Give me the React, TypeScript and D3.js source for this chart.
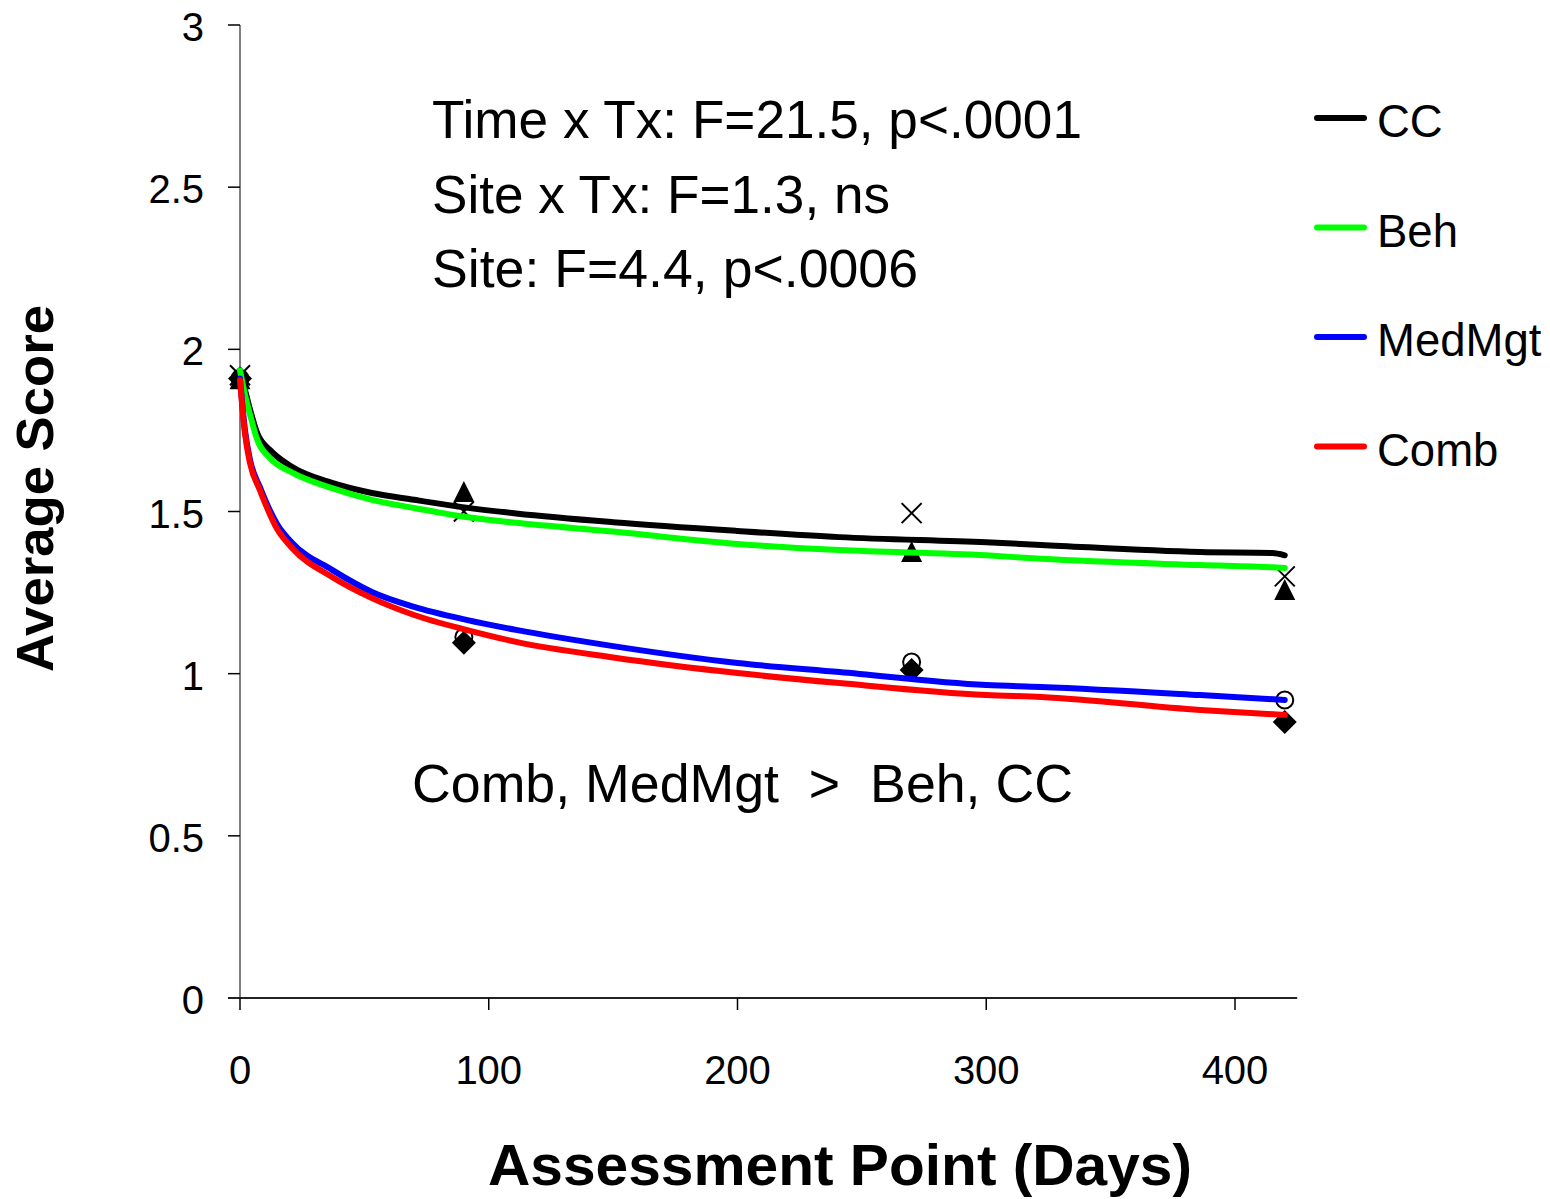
import React from "react";
import * as d3 from "d3";

const curveDays = [0, 2, 4, 7, 12, 21, 37, 53, 70, 91, 111, 150, 200, 241, 300, 322, 386, 415, 420];
const ccCurve = [1.935, 1.875, 1.815, 1.74, 1.69, 1.637, 1.588, 1.557, 1.536, 1.512, 1.494, 1.467, 1.44, 1.421, 1.405, 1.397, 1.375, 1.372, 1.365];
const behCurve = [1.935, 1.86, 1.8, 1.72, 1.665, 1.62, 1.572, 1.536, 1.511, 1.483, 1.465, 1.438, 1.4, 1.381, 1.365, 1.354, 1.335, 1.328, 1.326];
const medCurveDays = [0, 2, 4, 8, 15, 21, 37, 53, 70, 91, 111, 150, 200, 241, 300, 322, 386, 420];
const medCurve = [1.91, 1.75, 1.66, 1.575, 1.46, 1.403, 1.32, 1.252, 1.206, 1.166, 1.135, 1.085, 1.033, 1.005, 0.965, 0.959, 0.934, 0.919];
const combCurve = [1.905, 1.74, 1.65, 1.566, 1.445, 1.387, 1.298, 1.233, 1.181, 1.135, 1.098, 1.05, 1.002, 0.971, 0.934, 0.928, 0.888, 0.873];

const obsDays = [0, 90, 270, 420];
const ccObs = [1.92, 1.5, 1.495, 1.3];
const behObs = [1.905, 1.557, 1.372, 1.255];
const medObs = [1.91, 1.113, 1.036, 0.919];
const combObs = [1.91, 1.095, 1.011, 0.851];

const xTicks = [0, 100, 200, 300, 400];
const yTicks = [0, 0.5, 1, 1.5, 2, 2.5, 3];
const yTickLabels = ["0", "0.5", "1", "1.5", "2", "2.5", "3"];

const legendNames = ["CC", "Beh", "MedMgt", "Comb"];
const legendColors = ["#000000", "#00ff00", "#0000ff", "#ff0000"];

const statsLines = ["Time x Tx: F=21.5, p<.0001", "Site x Tx: F=1.3, ns", "Site: F=4.4, p<.0006"];
const statsWidths = [650, 458, 486];
const compareText = "Comb, MedMgt  >  Beh, CC";

const FONT = "'Liberation Sans', Arial, sans-serif";

export default function App() {
  const x = d3.scaleLinear().domain([0, 400]).range([240, 1235]);
  const y = d3.scaleLinear().domain([0, 3]).range([998, 25]);

  const line = d3
    .line<[number, number]>()
    .x((d) => x(d[0]))
    .y((d) => y(d[1]))
    .curve(d3.curveMonotoneX);

  const series = [
    { days: curveDays, vals: ccCurve, color: legendColors[0] },
    { days: curveDays, vals: behCurve, color: legendColors[1] },
    { days: medCurveDays, vals: medCurve, color: legendColors[2] },
    { days: medCurveDays, vals: combCurve, color: legendColors[3] },
  ];

  const xEnd = x(425);

  const markers: React.ReactNode[] = [];
  obsDays.forEach((d, i) => {
    const cx = x(d);
    const cyD = y(combObs[i]);
    markers.push(
      <path key={"d" + i} d={`M${cx},${cyD - 12} L${cx + 12},${cyD} L${cx},${cyD + 12} L${cx - 12},${cyD} Z`} fill="#000" />
    );
    markers.push(
      <circle key={"c" + i} cx={cx} cy={y(medObs[i])} r={8.5} fill="none" stroke="#000" strokeWidth={2} />
    );
    const cyT = y(behObs[i]);
    markers.push(
      <path key={"t" + i} d={`M${cx},${cyT - 12} L${cx + 10.5},${cyT + 9} L${cx - 10.5},${cyT + 9} Z`} fill="#000" />
    );
    const cyX = y(ccObs[i]);
    markers.push(
      <path
        key={"x" + i}
        d={`M${cx - 10},${cyX - 10} L${cx + 10},${cyX + 10} M${cx + 10},${cyX - 10} L${cx - 10},${cyX + 10}`}
        stroke="#000"
        strokeWidth={2}
        fill="none"
      />
    );
  });

  return (
    <div style={{ position: "absolute", left: 0, top: 0 }}>
      <svg width={1550} height={1199} style={{ display: "block", background: "#fff" }} fontFamily={FONT}>
        <rect x={0} y={0} width={1550} height={1199} fill="#fff" />
        <line x1={240} x2={240} y1={y(3)} y2={y(0)} stroke="#808080" strokeWidth={2} />
        {yTicks.map((t, i) => (
          <g key={"yt" + i}>
            <line x1={228} x2={240} y1={y(t)} y2={y(t)} stroke="#000" strokeWidth={1.5} />
            <text x={204} y={y(t) + 16} textAnchor="end" fontSize={40} fill="#000">
              {yTickLabels[i]}
            </text>
          </g>
        ))}
        <line x1={228} x2={xEnd} y1={y(0)} y2={y(0)} stroke="#222" strokeWidth={2} />
        {xTicks.map((t, i) => (
          <g key={"xt" + i}>
            <line x1={x(t)} x2={x(t)} y1={y(0)} y2={y(0) + 12} stroke="#000" strokeWidth={1.5} />
            <text x={x(t)} y={1084} textAnchor="middle" fontSize={40} fill="#000">
              {t}
            </text>
          </g>
        ))}
        {markers}
        {series.map((s, i) => (
          <path
            key={"s" + i}
            d={line(s.days.map((d, j) => [d, s.vals[j]] as [number, number])) || ""}
            fill="none"
            stroke={s.color}
            strokeWidth={6}
            strokeLinecap="round"
            strokeLinejoin="round"
          />
        ))}
        {statsLines.map((t, i) => (
          <text
            key={"st" + i}
            x={432}
            y={138 + i * 74.5}
            fontSize={53.5}
            fill="#000"
            textLength={statsWidths[i]}
            lengthAdjust="spacingAndGlyphs"
          >
            {t}
          </text>
        ))}
        <text
          x={412}
          y={802}
          fontSize={54}
          fill="#000"
          xmlSpace="preserve"
          style={{ whiteSpace: "pre" }}
          textLength={661}
          lengthAdjust="spacingAndGlyphs"
        >
          {compareText}
        </text>
        {legendNames.map((n, i) => {
          const ly = 118 + i * 109.5;
          return (
            <g key={"lg" + i}>
              <line x1={1317} x2={1364} y1={ly} y2={ly} stroke={legendColors[i]} strokeWidth={6} strokeLinecap="round" />
              <text x={1377} y={ly + 19} fontSize={45.5} fill="#000">
                {n}
              </text>
            </g>
          );
        })}
        <text
          x={488}
          y={1185}
          fontSize={58}
          fontWeight="bold"
          fill="#000"
          textLength={704}
          lengthAdjust="spacingAndGlyphs"
        >
          Assessment Point (Days)
        </text>
        <text
          transform={`translate(53, 672) rotate(-90)`}
          fontSize={52}
          fontWeight="bold"
          fill="#000"
          textLength={367}
          lengthAdjust="spacingAndGlyphs"
        >
          Average Score
        </text>
      </svg>
    </div>
  );
}
